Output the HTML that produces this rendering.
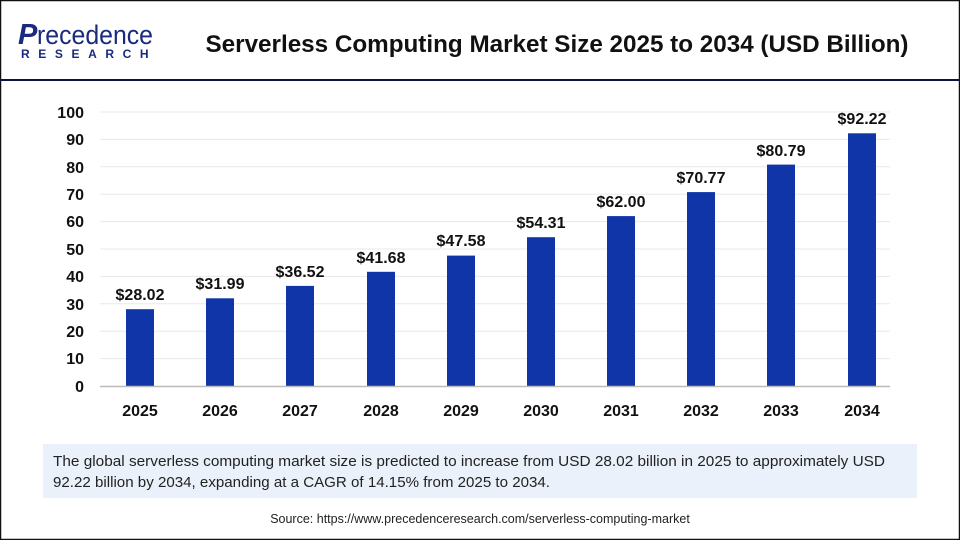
<!DOCTYPE html>
<html><head><meta charset="utf-8"><style>
html,body{margin:0;padding:0}
body{width:960px;height:540px;overflow:hidden;font-family:"Liberation Sans",sans-serif;background:#fff}
</style></head><body>
<svg width="960" height="540" xmlns="http://www.w3.org/2000/svg" font-family="Liberation Sans, sans-serif">
<rect x="0.5" y="0.5" width="959" height="539" fill="#fff" stroke="#111" stroke-width="1.5"/>
<line x1="0" y1="80" x2="960" y2="80" stroke="#0d1440" stroke-width="2"/>
<text x="18" y="44" font-size="29" fill="#1a2a7c" font-style="italic" font-weight="bold">P</text>
<text x="37" y="44" font-size="27" fill="#1a2a7c" textLength="116" lengthAdjust="spacingAndGlyphs">recedence</text>
<text x="21" y="58" font-size="12" font-weight="bold" fill="#1a2a7c" letter-spacing="8.6">RESEARCH</text>
<text x="557" y="52" font-size="24" font-weight="bold" fill="#111" text-anchor="middle" textLength="703" lengthAdjust="spacingAndGlyphs">Serverless Computing Market Size 2025 to 2034 (USD Billion)</text>
<g stroke="#e8e8e8" stroke-width="1">
<line x1="100" x2="890" y1="112" y2="112"/><line x1="100" x2="890" y1="139.4" y2="139.4"/><line x1="100" x2="890" y1="166.8" y2="166.8"/><line x1="100" x2="890" y1="194.2" y2="194.2"/><line x1="100" x2="890" y1="221.6" y2="221.6"/><line x1="100" x2="890" y1="249" y2="249"/><line x1="100" x2="890" y1="276.4" y2="276.4"/><line x1="100" x2="890" y1="303.8" y2="303.8"/><line x1="100" x2="890" y1="331.2" y2="331.2"/><line x1="100" x2="890" y1="358.6" y2="358.6"/>
</g>
<g font-size="16" font-weight="bold" fill="#111" text-anchor="end">
<text x="84" y="118">100</text><text x="84" y="145">90</text><text x="84" y="173">80</text><text x="84" y="200">70</text><text x="84" y="227">60</text><text x="84" y="255">50</text><text x="84" y="282">40</text><text x="84" y="310">30</text><text x="84" y="337">20</text><text x="84" y="364">10</text><text x="84" y="392">0</text>
</g>
<g fill="#0f35a8">
<rect x="126" y="309.2" width="28" height="76.8"/>
<rect x="206" y="298.3" width="28" height="87.7"/>
<rect x="286" y="285.9" width="28" height="100.1"/>
<rect x="367" y="271.8" width="28" height="114.2"/>
<rect x="447" y="255.6" width="28" height="130.4"/>
<rect x="527" y="237.2" width="28" height="148.8"/>
<rect x="607" y="216.1" width="28" height="169.9"/>
<rect x="687" y="192.1" width="28" height="193.9"/>
<rect x="767" y="164.6" width="28" height="221.4"/>
<rect x="848" y="133.3" width="28" height="252.7"/>
</g>
<line x1="100" x2="890" y1="386.5" y2="386.5" stroke="#bbb" stroke-width="1.5"/>
<g font-size="16" font-weight="bold" fill="#111" text-anchor="middle">
<text x="140" y="300">$28.02</text><text x="220" y="289">$31.99</text><text x="300" y="277">$36.52</text><text x="381" y="263">$41.68</text><text x="461" y="246">$47.58</text><text x="541" y="228">$54.31</text><text x="621" y="207">$62.00</text><text x="701" y="183">$70.77</text><text x="781" y="156">$80.79</text><text x="862" y="124">$92.22</text>
<text x="140" y="416">2025</text><text x="220" y="416">2026</text><text x="300" y="416">2027</text><text x="381" y="416">2028</text><text x="461" y="416">2029</text><text x="541" y="416">2030</text><text x="621" y="416">2031</text><text x="701" y="416">2032</text><text x="781" y="416">2033</text><text x="862" y="416">2034</text>
</g>
<rect x="43" y="444" width="874" height="54" fill="#eaf1fb"/>
<text x="53" y="466" font-size="15" fill="#222" textLength="832" lengthAdjust="spacingAndGlyphs">The global serverless computing market size is predicted to increase from USD 28.02 billion in 2025 to approximately USD</text>
<text x="53" y="487" font-size="15" fill="#222" textLength="497" lengthAdjust="spacingAndGlyphs">92.22 billion by 2034, expanding at a CAGR of 14.15% from 2025 to 2034.</text>
<text x="480" y="523" font-size="12.5" fill="#222" text-anchor="middle">Source: https://www.precedenceresearch.com/serverless-computing-market</text>
</svg>
</body></html>
